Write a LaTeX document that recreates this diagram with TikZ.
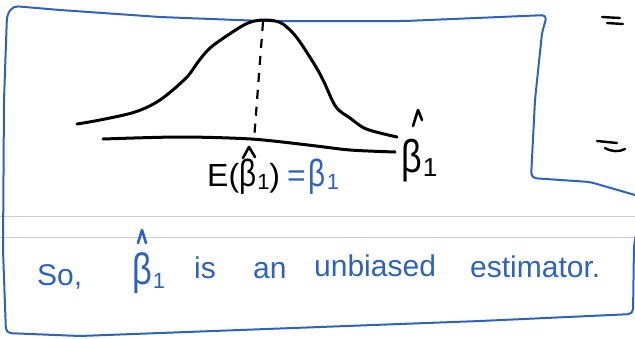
\documentclass[tikz,border=0pt]{standalone}
\usepackage{graphicx}
\usepackage{fontspec}
\setmainfont{Liberation Sans}
\definecolor{ink}{RGB}{47,98,188}
\newcommand{\nb}{\scalebox{0.78}[1]{β}}
\newcommand{\nbone}[1]{\nb\kern1pt\raisebox{-0.1em}{\fontsize{#1}{#1}\selectfont 1}}
\begin{document}
\begin{tikzpicture}[x=1pt,y=-1pt,
  outline/.style={draw=ink, line width=2pt, rounded corners=5pt, line cap=round, line join=round},
  curve/.style={draw=black, line width=3pt, line cap=round, line join=round},
  hatstroke/.style={line width=2.6pt, line cap=round, line join=round},
  ruled/.style={draw=black!20, line width=0.8pt},
  handblue/.style={text=ink, inner sep=0pt, anchor=base west, font=\fontsize{30}{36}\selectfont},
  handblack/.style={text=black, inner sep=0pt, anchor=base west, font=\fontsize{32}{38}\selectfont}]
\useasboundingbox (0,0) rectangle (635,338);
% notebook rules
\draw[ruled] (0,216) -- (635,216);
\draw[ruled] (0,237) -- (635,237);
% blue outline
\draw[outline] (635,195) -- (590,182) -- (531,178) -- (535,100) -- (542,33) -- (547,15)
  -- (405,21) -- (263,21) -- (160,17) -- (60,10) -- (13,6) -- (7,15) -- (4,100) -- (3,250)
  -- (6,333) -- (80,336) -- (480,321) -- (633,314) -- (634,245) -- (636,235);
% bell curve
\draw[curve] plot[smooth, tension=0.55] coordinates {(77,124) (100,120) (135,112) (160,100)
  (186,78) (198,62) (210,48) (231,33) (248,23) (263,20) (279,22) (290,30) (300,42)
  (316,67) (324,82) (336,107) (350,118) (364,128) (380,133) (397,137)};
% axis
\draw[curve] plot[smooth, tension=0.5] coordinates {(103,139) (180,137) (251,139) (308,145) (350,150) (395,152)};
% dashed mean line
\coordinate (top) at (263,22);
\coordinate (foot) at (254,140);
\draw[curve, line width=2.2pt, dash pattern=on 9pt off 8pt, line cap=butt] (top) -- (foot);
% axis label
\node[handblack, font=\fontsize{46}{50}\selectfont] (bhat) at (401,172) {\nbone{26}};
\draw[hatstroke] (413,126) -- (418,110) -- (422,120);
% expectation
\node[handblack] (ex) at (207,186) {E({\fontsize{38}{40}\selectfont\nbone{22}})};
\draw[hatstroke] (243,158) -- (249,147) -- (255,157);
\node[handblack, text=ink] (eq) at (287,186) {=\kern3pt{\fontsize{38}{40}\selectfont\nbone{22}}};
% conclusion
\node[handblue] (so) at (37,285) {So,};
\node[handblue, font=\fontsize{44}{48}\selectfont] (b2) at (132,284) {\nbone{22}};
\draw[hatstroke, draw=ink] (138,243) -- (142,230) -- (146,243);
\node[handblue] (is) at (194,278) {is};
\node[handblue] (an) at (253,278) {an};
\node[handblue] (unb) at (314,276) {unbiased};
\node[handblue] (est) at (470,277) {estimator.};
% margin marks
\draw[curve, line width=2.4pt] (602,17) -- (620,18);
\draw[curve, line width=2.4pt] (607,23) -- (623,24);
\draw[curve, line width=2.4pt] (597,141) -- (617,143);
\draw[curve, line width=2.4pt] (605,148) .. controls (612,152) and (619,152) .. (625,149);
\end{tikzpicture}
\end{document}
